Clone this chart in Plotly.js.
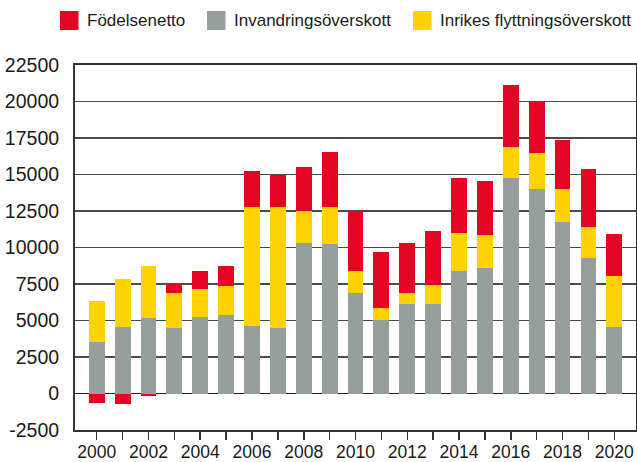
<!DOCTYPE html>
<html>
<head>
<meta charset="utf-8">
<script src="https://cdn.plot.ly/plotly-3.0.1.min.js"></script>
<style>
html,body{margin:0;padding:0;background:#fff;}
#chart{width:637px;height:462px;}
</style>
</head>
<body>
<div id="chart"></div>
<script>
// Data
const years = [2000,2001,2002,2003,2004,2005,2006,2007,2008,2009,2010,2011,2012,2013,2014,2015,2016,2017,2018,2019,2020];
const invandringsoverskott = [3550,4550,5160,4490,5230,5360,4620,4490,10290,10220,6860,5020,6110,6110,8400,8620,14780,14000,11760,9260,4550];
const inrikesFlyttningsoverskott = [2770,3280,3550,2380,1910,1980,8150,8280,2210,2550,1540,820,750,1300,2620,2210,2110,2440,2230,2170,3500];
const fodelsenetto = [-650,-740,-190,680,1270,1370,2460,2210,2990,3740,4120,3850,3430,3690,3750,3750,4220,3560,3400,3930,2850];
const seriesNames = ['Födelsenetto','Invandringsöverskott','Inrikes flyttningsöverskott'];
const yTickVals = [-2500,0,2500,5000,7500,10000,12500,15000,17500,20000,22500];
const yTickText = ['-2500','0','2500','5000','7500','10000','12500','15000','17500','20000','22500'];
const xTickText = years.map(y => (y % 2 === 0 ? String(y) : ''));

const colors = {red:'#E30521', gray:'#979F9C', yellow:'#FED300'};
const seriesColors = [colors.red, colors.gray, colors.yellow];
const barWidth = 0.61;

const W = 637, H = 462;
const M = {l:75, r:1, t:65, b:32};
const plotW = W - M.l - M.r, plotH = H - M.t - M.b;
const px2x = px => (px - M.l) / plotW;
const py2y = py => (H - M.b - py) / plotH;

const traces = [
  {type:'bar', name:seriesNames[1], x:years, y:invandringsoverskott, marker:{color:colors.gray}, width:barWidth},
  {type:'bar', name:seriesNames[2], x:years, y:inrikesFlyttningsoverskott, marker:{color:colors.yellow}, width:barWidth},
  {type:'bar', name:seriesNames[0], x:years, y:fodelsenetto, marker:{color:colors.red}, width:barWidth}
];

// Custom legend (squares + labels) placed in pixel terms
const legendSquareLeft = [60, 207, 413];
const shapes = [];
const annotations = [];
seriesNames.forEach((name, i) => {
  const x0 = legendSquareLeft[i];
  shapes.push({type:'rect', xref:'paper', yref:'paper',
    x0:px2x(x0), x1:px2x(x0 + 18.5), y0:py2y(30), y1:py2y(11),
    fillcolor:seriesColors[i], line:{width:0}});
  annotations.push({xref:'paper', yref:'paper', x:px2x(x0 + 24.5), y:py2y(20.5),
    xanchor:'left', yanchor:'middle', showarrow:false, text:name,
    font:{family:'"Liberation Sans", Arial, sans-serif', size:17, color:'#1a1a1a'}});
});

const layout = {
  width:W, height:H,
  margin:{l:M.l, r:M.r, t:M.t, b:M.b, pad:0},
  paper_bgcolor:'#ffffff', plot_bgcolor:'#ffffff',
  barmode:'relative',
  font:{family:'"Liberation Sans", Arial, sans-serif', size:19, color:'#1a1a1a'},
  showlegend:false,
  shapes:shapes,
  annotations:annotations,
  xaxis:{type:'linear', range:[1999.16, 2020.84], tickmode:'array', tickvals:years, ticktext:xTickText,
         ticks:'outside', ticklen:8, tickwidth:1.5, tickcolor:'#333', ticklabelstandoff:-3,
         showgrid:false, zeroline:false, showline:true, linecolor:'#333', linewidth:2, mirror:true,
         tickfont:{size:17.5}},
  yaxis:{range:[-2500,22500], tickmode:'array', tickvals:yTickVals, ticktext:yTickText,
         ticks:'', ticklabelstandoff:10,
         showgrid:true, gridcolor:'#4a4a4a', gridwidth:1.2,
         zeroline:true, zerolinecolor:'#222', zerolinewidth:1.5,
         showline:true, linecolor:'#333', linewidth:2, mirror:true,
         tickfont:{size:19.5}},
  bargap:0
};

Plotly.newPlot('chart', traces, layout, {staticPlot:true, displayModeBar:false});
</script>
</body>
</html>
